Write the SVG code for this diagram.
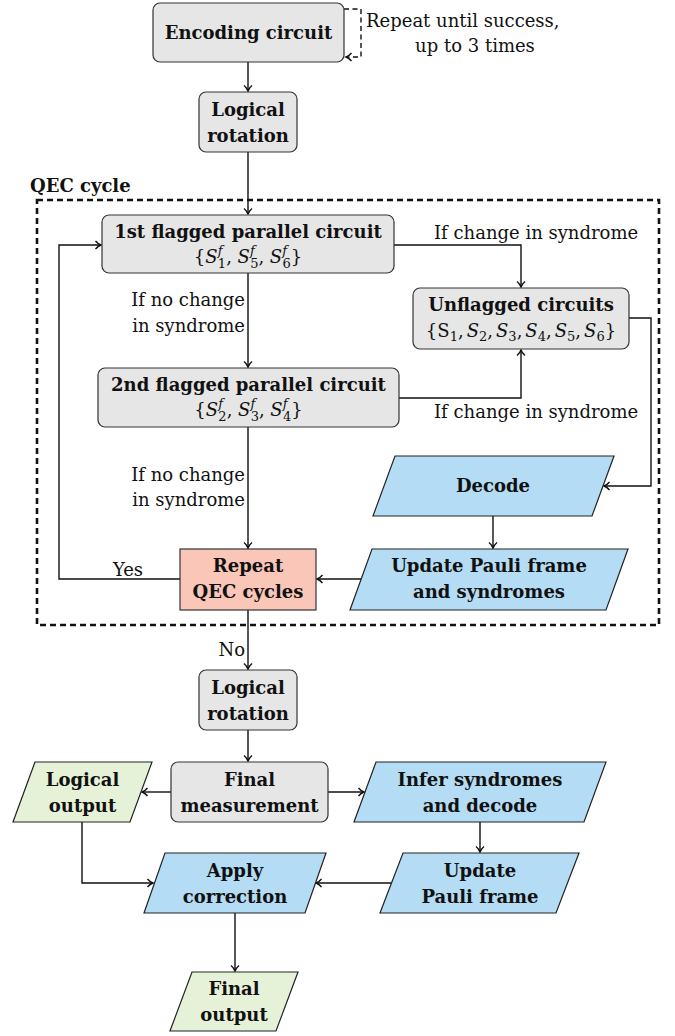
<svg xmlns="http://www.w3.org/2000/svg" width="675" height="1036" viewBox="0 0 675 1036">
<style>
.t{font-family:"DejaVu Serif","Liberation Serif",serif;font-size:18px;fill:#111}
.b{font-weight:bold}
.i{font-style:italic}
.s{font-size:13px}
.m{text-anchor:middle}
.e{text-anchor:end}
.gray{fill:#e6e6e6;stroke:#333;stroke-width:1.2}
.blue{fill:#b4dcf4;stroke:#222;stroke-width:1.2}
.green{fill:#e6f2d8;stroke:#222;stroke-width:1.2}
.red{fill:#f9c6b8;stroke:#333;stroke-width:1.2}
.c{fill:none;stroke:#111;stroke-width:1.4;marker-end:url(#ah)}
.d{stroke-dasharray:5 3.5}
</style>
<defs>
<marker id="ah" viewBox="-7 -5 9 10" refX="0" refY="0" markerWidth="9" markerHeight="10" markerUnits="userSpaceOnUse" orient="auto">
<path d="M-5.5,-4 C-3.5,-1.6 -1.2,-0.4 0,0 C-1.2,0.4 -3.5,1.6 -5.5,4" fill="none" stroke="#111" stroke-width="1.4"/>
</marker>
</defs>

<g id="qec-cycle">
<rect x="37" y="200" width="622" height="425" fill="none" stroke="#111" stroke-width="2.6" stroke-dasharray="6 4"/>
<text class="t b" x="30" y="192">QEC cycle</text>
</g>

<g id="connectors">
<path class="c" d="M248,62 V91"/>
<path class="c d" d="M344,9 H361 V57 H346"/>
<path class="c" d="M248,152 V214"/>
<path class="c" d="M394,245 H521 V287"/>
<path class="c" d="M248,273 V367"/>
<path class="c" d="M399,398 H521 V350"/>
<path class="c" d="M629,318 H651 V486 H604"/>
<path class="c" d="M493,516 V548"/>
<path class="c" d="M361,579 H317"/>
<path class="c" d="M248,427 V548"/>
<path class="c" d="M180,579 H59 V245 H101"/>
<path class="c" d="M248,610 V669"/>
<path class="c" d="M248,730 V761"/>
<path class="c" d="M171,792 H142"/>
<path class="c" d="M328,792 H364"/>
<path class="c" d="M480,822 V852"/>
<path class="c" d="M392,883 H316"/>
<path class="c" d="M82,822 V883 H153"/>
<path class="c" d="M235,913 V971"/>
</g>

<g id="labels">
<text class="t" x="366" y="27">Repeat until success,</text>
<text class="t m" x="475" y="52">up to 3 times</text>
<text class="t" x="434" y="239">If change in syndrome</text>
<text class="t e" x="245" y="306">If no change</text>
<text class="t e" x="245" y="332">in syndrome</text>
<text class="t" x="434" y="418">If change in syndrome</text>
<text class="t e" x="245" y="481">If no change</text>
<text class="t e" x="245" y="506">in syndrome</text>
<text class="t m" x="128" y="576">Yes</text>
<text class="t e" x="245" y="656">No</text>
</g>

<g id="encoding">
<rect class="gray" x="153" y="3" width="191" height="59" rx="7"/>
<text class="t b m" x="248.5" y="39">Encoding circuit</text>
</g>

<g id="rotation1">
<rect class="gray" x="199" y="92" width="98" height="60" rx="7"/>
<text class="t b m" x="248" y="116">Logical</text>
<text class="t b m" x="248" y="142">rotation</text>
</g>

<g id="flagged1">
<rect class="gray" x="102" y="215" width="292" height="58" rx="7"/>
<text class="t b m" x="248" y="238">1st flagged parallel circuit</text>
<text class="t m" x="248" y="263">{<tspan class="i">S</tspan><tspan class="i s" dy="-8">f</tspan><tspan class="s" dx="-4.6" dy="13">1</tspan><tspan dy="-5">, </tspan><tspan class="i">S</tspan><tspan class="i s" dy="-8">f</tspan><tspan class="s" dx="-4.6" dy="13">5</tspan><tspan dy="-5">, </tspan><tspan class="i">S</tspan><tspan class="i s" dy="-8">f</tspan><tspan class="s" dx="-4.6" dy="13">6</tspan><tspan dy="-5">}</tspan></text>
</g>

<g id="unflagged">
<rect class="gray" x="413" y="288" width="216" height="61" rx="7"/>
<text class="t b m" x="521" y="311">Unflagged circuits</text>
<text class="t m" x="521" y="337">{S<tspan class="s" dy="4">1</tspan><tspan dy="-4">,</tspan><tspan class="i" dx="3">S</tspan><tspan class="s" dy="4">2</tspan><tspan dy="-4">,</tspan><tspan class="i" dx="3">S</tspan><tspan class="s" dy="4">3</tspan><tspan dy="-4">,</tspan><tspan class="i" dx="3">S</tspan><tspan class="s" dy="4">4</tspan><tspan dy="-4">,</tspan><tspan class="i" dx="3">S</tspan><tspan class="s" dy="4">5</tspan><tspan dy="-4">,</tspan><tspan class="i" dx="3">S</tspan><tspan class="s" dy="4">6</tspan><tspan dy="-4">}</tspan></text>
</g>

<g id="flagged2">
<rect class="gray" x="98" y="368" width="301" height="59" rx="7"/>
<text class="t b m" x="248.5" y="391">2nd flagged parallel circuit</text>
<text class="t m" x="248.5" y="416">{<tspan class="i">S</tspan><tspan class="i s" dy="-8">f</tspan><tspan class="s" dx="-4.6" dy="13">2</tspan><tspan dy="-5">, </tspan><tspan class="i">S</tspan><tspan class="i s" dy="-8">f</tspan><tspan class="s" dx="-4.6" dy="13">3</tspan><tspan dy="-5">, </tspan><tspan class="i">S</tspan><tspan class="i s" dy="-8">f</tspan><tspan class="s" dx="-4.6" dy="13">4</tspan><tspan dy="-5">}</tspan></text>
</g>

<g id="decode">
<polygon class="blue" points="373,516 592,516 614,456 395,456"/>
<text class="t b m" x="493" y="492">Decode</text>
</g>

<g id="update-syndromes">
<polygon class="blue" points="350,610 606,610 628,549 372,549"/>
<text class="t b m" x="489" y="572">Update Pauli frame</text>
<text class="t b m" x="489" y="598">and syndromes</text>
</g>

<g id="repeat">
<rect class="red" x="180" y="549" width="136" height="61"/>
<text class="t b m" x="248" y="572">Repeat</text>
<text class="t b m" x="248" y="598">QEC cycles</text>
</g>

<g id="rotation2">
<rect class="gray" x="199" y="670" width="98" height="60" rx="7"/>
<text class="t b m" x="248" y="694">Logical</text>
<text class="t b m" x="248" y="720">rotation</text>
</g>

<g id="final-measurement">
<rect class="gray" x="171" y="762" width="157" height="60" rx="7"/>
<text class="t b m" x="249.5" y="786">Final</text>
<text class="t b m" x="249.5" y="812">measurement</text>
</g>

<g id="logical-output">
<polygon class="green" points="13,822 130,822 152,762 35,762"/>
<text class="t b m" x="82.5" y="786">Logical</text>
<text class="t b m" x="82.5" y="812">output</text>
</g>

<g id="infer">
<polygon class="blue" points="354,822 584,822 606,762 376,762"/>
<text class="t b m" x="480" y="786">Infer syndromes</text>
<text class="t b m" x="480" y="812">and decode</text>
</g>

<g id="update-pauli">
<polygon class="blue" points="380,913 556,913 579,853 403,853"/>
<text class="t b m" x="480" y="877">Update</text>
<text class="t b m" x="480" y="903">Pauli frame</text>
</g>

<g id="apply">
<polygon class="blue" points="144,913 305,913 326,853 165,853"/>
<text class="t b m" x="235" y="877">Apply</text>
<text class="t b m" x="235" y="903">correction</text>
</g>

<g id="final-output">
<polygon class="green" points="170,1031 276,1031 298,972 192,972"/>
<text class="t b m" x="234" y="995">Final</text>
<text class="t b m" x="234" y="1021">output</text>
</g>
</svg>
